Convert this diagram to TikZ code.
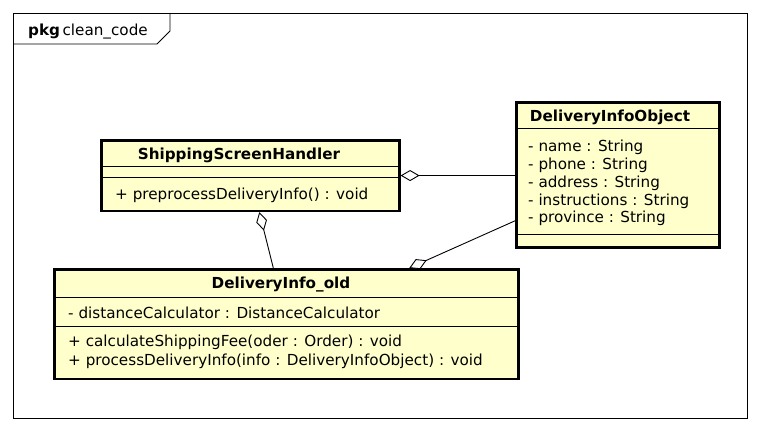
\documentclass[tikz,border=0pt]{standalone}
\usepackage{fontspec}
\setmainfont{DejaVu Sans}
\usetikzlibrary{arrows.meta,calc}
\definecolor{umlfill}{HTML}{FFFFCC}
\tikzset{
  umlbox/.style={draw, line width=2.6pt, fill=umlfill, inner sep=0pt, anchor=north west},
  sepline/.style={line width=0.8pt},
  txt/.style={inner sep=0pt, anchor=base west, font=\fontsize{15.2}{18}\selectfont},
  ttl/.style={inner sep=0pt, anchor=base, font=\fontsize{15.2}{18}\selectfont\bfseries},
  conn/.style={line width=0.9pt},
  agg/.style={conn, {Diamond[open, fill=white, length=19pt, width=11pt, line width=0.9pt]}-}
}
\begin{document}
\begin{tikzpicture}[x=1pt,y=-1pt]
\useasboundingbox (0,0) rectangle (760,432);
% frame
\draw[line width=0.9pt] (13,13) rectangle (747,418);
\draw[line width=0.9pt] (13,44) -- (157,44) -- (170,31) -- (170,13);
\node[txt] (pkglbl) at (28,35) {\textbf{pkg}\,clean\_code};

% boxes
\node[umlbox, minimum width=298pt, minimum height=70.5pt] (ssh) at (100,139) {};
\node[umlbox, minimum width=203pt, minimum height=145pt] (dio) at (515,101) {};
\node[umlbox, minimum width=464pt, minimum height=109.5pt] (old) at (53,268) {};

% ShippingScreenHandler
\draw[sepline] (ssh.west |- 0,166) -- (ssh.east |- 0,166);
\draw[sepline] (ssh.west |- 0,177.5) -- (ssh.east |- 0,177.5);
\node[ttl] (sshname) at (239,159) {ShippingScreenHandler};
\node[txt] (sshm1) at (115,199) {+ preprocessDeliveryInfo() : void};

% DeliveryInfoObject
\draw[sepline] (dio.west |- 0,128.5) -- (dio.east |- 0,128.5);
\draw[sepline] (dio.west |- 0,234) -- (dio.east |- 0,234);
\node[ttl] (dioname) at (610,121.5) {DeliveryInfoObject};
\node[txt] (dioa1) at (528,151.5) {- name : String};
\node[txt] (dioa2) at (528,169.5) {- phone : String};
\node[txt] (dioa3) at (528,187.3) {- address : String};
\node[txt] (dioa4) at (528,205.1) {- instructions : String};
\node[txt] (dioa5) at (528,222.9) {- province : String};

% DeliveryInfo_old
\draw[sepline] (old.west |- 0,297.5) -- (old.east |- 0,297.5);
\draw[sepline] (old.west |- 0,326) -- (old.east |- 0,326);
\node[ttl] (oldname) at (281,288) {DeliveryInfo\_old};
\node[txt] (olda1) at (68,318) {- distanceCalculator : DistanceCalculator};
\node[txt] (oldm1) at (68,346.7) {+ calculateShippingFee(oder : Order) : void};
\node[txt] (oldm2) at (68,365.7) {+ processDeliveryInfo(info : DeliveryInfoObject) : void};

% connectors
\draw[agg] (ssh.east) -- (ssh.east -| dio.west);
\draw[agg] ([xshift=9pt]ssh.south) -- ([xshift=-13pt]old.north);
\draw[agg] ([xshift=123pt]old.north) -- ([yshift=-46pt]dio.west);
\end{tikzpicture}
\end{document}
